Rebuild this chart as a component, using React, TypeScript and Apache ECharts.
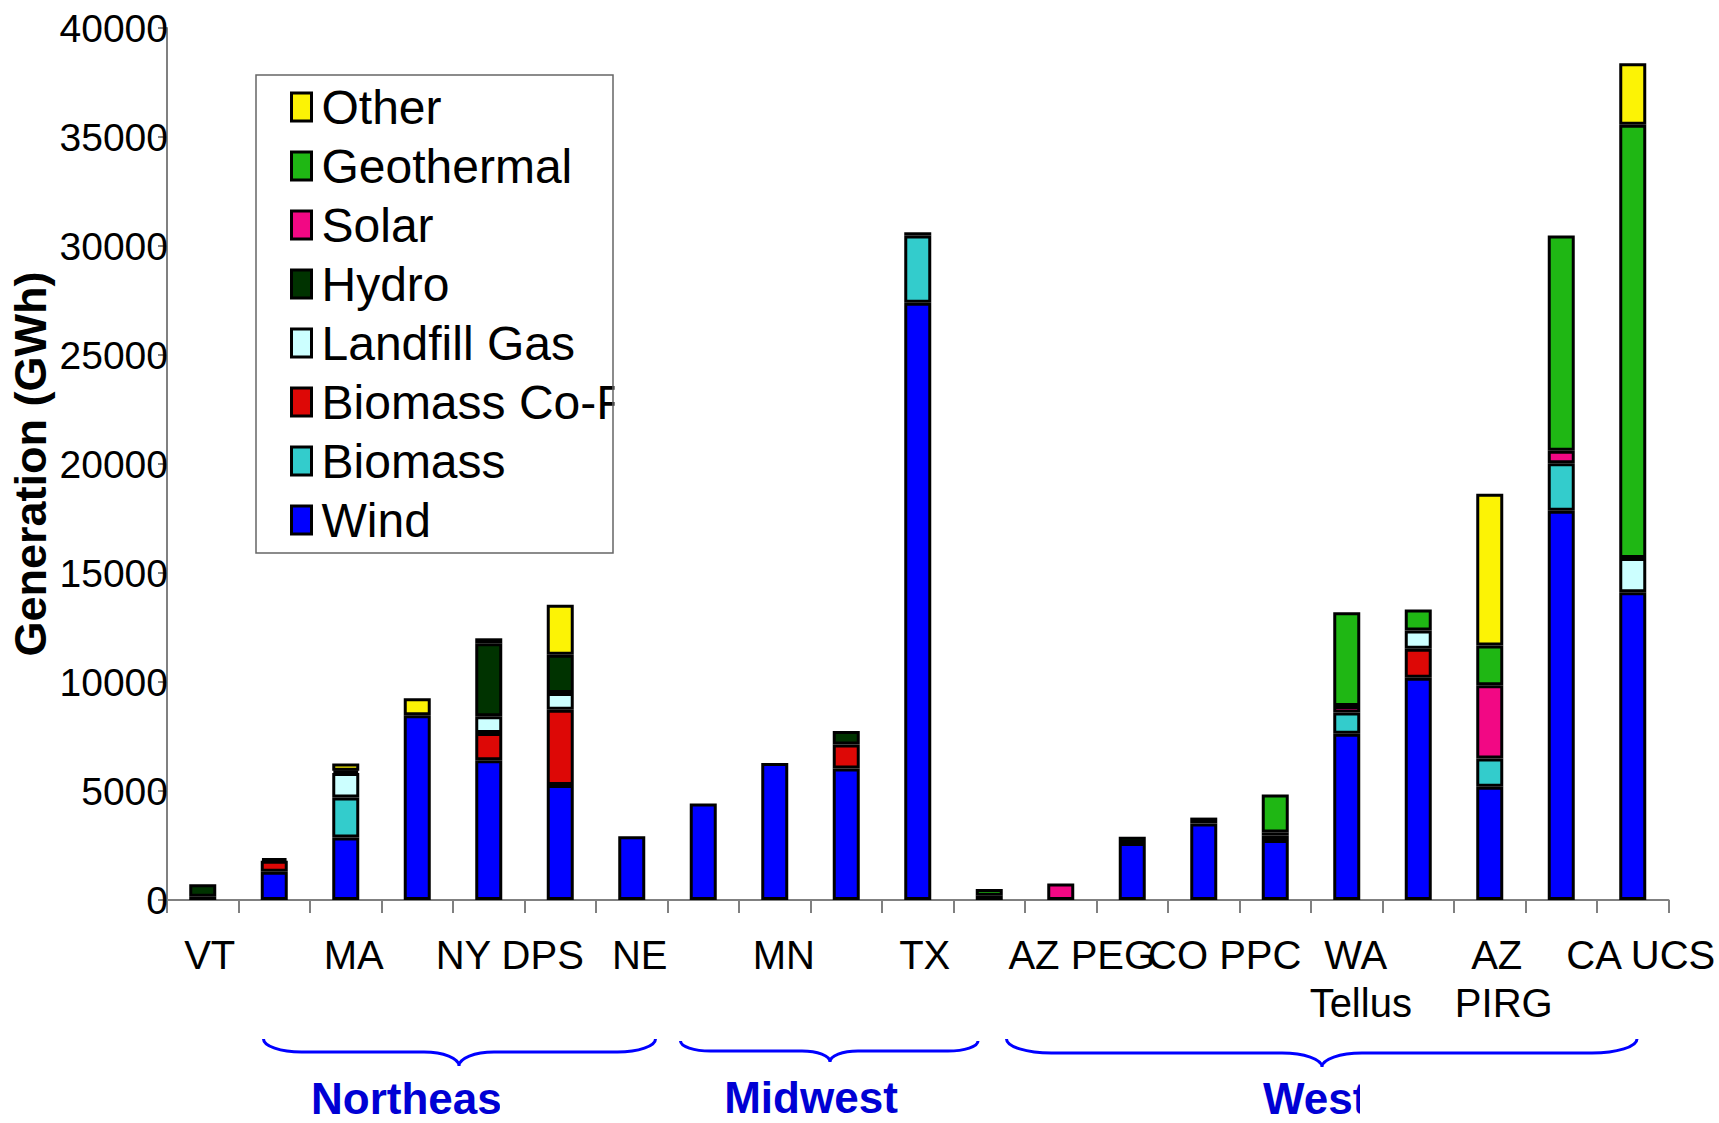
import React, { useEffect, useRef } from 'react';
import * as echarts from 'echarts';

// ---- Data (GWh) ----
const categories = ['VT', '', 'MA', '', 'NY DPS', '', 'NE', '', 'MN', '', 'TX', '', 'AZ PEG', '', 'CO PPC', '', 'WA\nTellus', '', 'AZ\nPIRG', '', 'CA UCS'];

const wind = [0, 1300, 2870, 8470, 6410, 5270, 2930, 4430, 6290, 6030, 27400, 200, 0, 2620, 3510, 2750, 7630, 10200, 5190, 17860, 14120];
const biomass = [150, 0, 1830, 0, 0, 0, 0, 0, 0, 0, 3080, 0, 0, 0, 0, 200, 970, 0, 1300, 2170, 0];
const biomassCoFiring = [0, 500, 0, 0, 1250, 3460, 0, 0, 0, 1100, 0, 0, 0, 0, 0, 0, 0, 1330, 0, 0, 0];
const landfillGas = [0, 0, 1130, 0, 765, 760, 0, 0, 0, 0, 0, 0, 0, 0, 0, 150, 0, 830, 0, 0, 1570];
const hydro = [570, 110, 100, 0, 3350, 1760, 0, 0, 0, 620, 150, 0, 0, 280, 270, 0, 0, 0, 0, 0, 0];
const solar = [0, 0, 0, 0, 0, 0, 0, 0, 0, 0, 0, 0, 760, 0, 0, 0, 300, 0, 3360, 580, 0];
const geothermal = [0, 0, 0, 0, 0, 0, 0, 0, 0, 0, 0, 300, 0, 0, 0, 1740, 4300, 960, 1830, 9870, 19875];
const other = [0, 0, 330, 790, 230, 2290, 0, 0, 0, 0, 0, 0, 0, 0, 0, 0, 0, 0, 6950, 0, 2820];

const seriesNames = ['Wind', 'Biomass', 'Biomass Co-Firing', 'Landfill Gas', 'Hydro', 'Solar', 'Geothermal', 'Other'];
const seriesValues = [wind, biomass, biomassCoFiring, landfillGas, hydro, solar, geothermal, other];
const seriesColors = ['#0000FF', '#33CCCC', '#DD0806', '#CCFFFF', '#003300', '#F20884', '#1FB714', '#FCF305'];

const yMin = 0;
const yMax = 40000;
const yStep = 5000;

const yAxisTitle = 'Generation (GWh)';
const regionLabels = ['Northeast', 'Midwest', 'West'];

const FONT = '"Liberation Sans", Arial, Helvetica, sans-serif';

const CHART_W = 1719;
const CHART_H = 1123;
const GRID = { left: 167, right: 50.5, top: 28, bottom: 223 };

function bracePath(x0: number, x1: number, xm: number, top: number, line: number, tip: number, r: number, r2: number) {
  const k = 0.552;
  const h = line - top;
  const h2 = tip - line;
  return (
    `M${x0},${top} C${x0},${top + k * h} ${x0 + r - k * r},${line} ${x0 + r},${line} ` +
    `L${xm - r2},${line} C${xm - r2 + k * r2},${line} ${xm},${tip - k * h2} ${xm},${tip} ` +
    `C${xm},${tip - k * h2} ${xm + r2 - k * r2},${line} ${xm + r2},${line} ` +
    `L${x1 - r},${line} C${x1 - r + k * r},${line} ${x1},${top + k * h} ${x1},${top} `
  );
}

export default function App() {
  const ref = useRef<HTMLDivElement>(null);

  useEffect(() => {
    if (!ref.current) return;

    const d =
      bracePath(263.5, 655.5, 459, 1039, 1052, 1066, 38, 35) +
      bracePath(680.5, 978, 830, 1041, 1051, 1062, 30, 28) +
      bracePath(1006.5, 1637, 1322, 1039, 1053, 1067, 45, 40);
    echarts.graphic.registerShape('regionBraces', echarts.graphic.extendPath(d, {}));

    const canvas = document.createElement('canvas');
    const ctx = canvas.getContext('2d');
    const measure = (s: string) => {
      if (!ctx) return s.length * 22;
      ctx.font = '40px "Liberation Sans"';
      return ctx.measureText(s).width;
    };

    // per-line rich styles: each line is nudged right in proportion to its width
    // (left/right paddings cancel so the label box keeps its natural width);
    // the nudge is capped so that no label runs past the right edge of the chart
    const plotW = CHART_W - GRID.left - GRID.right;
    const band = plotW / categories.length;
    const rich: any = {};
    categories.forEach((c, i) => {
      const center = GRID.left + band * (i + 0.5);
      c.split('\n').forEach((l, j) => {
        if (!l) return;
        const w = measure(l);
        const room = CHART_W - 3 - (center + w / 2);
        const s = Math.max(0, Math.round(Math.min(w * 0.14, room)));
        rich[`c${i}l${j}`] = {
          fontSize: 40,
          fontFamily: FONT,
          lineHeight: 48,
          color: '#000',
          padding: [0, -s, 0, s],
        };
      });
    });

    const chart = echarts.init(ref.current, undefined, { renderer: 'svg' });

    const series = seriesNames.map((name, i) => ({
      name,
      type: 'bar',
      stack: 'total',
      barWidth: 27,
      data: seriesValues[i].map((v) => (v === 0 ? '-' : v)),
      itemStyle: { color: seriesColors[i], borderColor: '#000', borderWidth: 3 },
      emphasis: { disabled: true },
    }));

    const regionText = (text: string, x: number, y: number, align: string) => ({
      type: 'text',
      x,
      y,
      z: 5,
      style: {
        text,
        fontSize: 44,
        fontWeight: 'bold',
        fontFamily: FONT,
        fill: '#0000D4',
        align,
        verticalAlign: 'middle',
      },
      silent: true,
    });

    const mask = (x: number, y: number, width: number, height: number) => ({
      type: 'rect',
      z: 20,
      shape: { x, y, width, height },
      style: { fill: '#ffffff' },
      silent: true,
    });

    const option: any = {
      animation: false,
      backgroundColor: '#ffffff',
      grid: { ...GRID, containLabel: false, outerBoundsMode: 'none' },
      xAxis: {
        type: 'category',
        data: categories,
        axisLine: { lineStyle: { color: '#808080', width: 2 } },
        axisTick: { show: true, interval: 0, length: 13, lineStyle: { color: '#808080', width: 2 } },
        axisLabel: {
          interval: 1,
          showMinLabel: true,
          showMaxLabel: true,
          hideOverlap: false,
          color: '#000',
          fontSize: 40,
          fontFamily: FONT,
          lineHeight: 48,
          margin: 31,
          formatter: (v: string, i: number) =>
            v ? v.split('\n').map((l, j) => `{c${i}l${j}|${l}}`).join('\n') : '',
          rich,
        },
      },
      yAxis: {
        type: 'value',
        min: yMin,
        max: yMax,
        interval: yStep,
        axisLine: { show: true, lineStyle: { color: '#808080', width: 2 } },
        axisTick: { show: true, length: 9, lineStyle: { color: '#808080', width: 2 } },
        splitLine: { show: false },
        axisLabel: {
          color: '#000',
          fontSize: 39,
          fontFamily: FONT,
          margin: -1,
          formatter: (v: number) => String(v),
        },
      },
      legend: {
        data: [...seriesNames].reverse(),
        orient: 'vertical',
        left: 290,
        top: 83,
        padding: 0,
        itemWidth: 20,
        itemHeight: 28,
        itemGap: 11,
        icon: 'rect',
        selectedMode: false,
        itemStyle: { borderColor: '#000', borderWidth: 3 },
        textStyle: {
          color: '#000',
          fontSize: 48,
          fontFamily: FONT,
          lineHeight: 40,
          padding: [0, 0, 0, 5],
        },
      },
      series,
      graphic: [
        {
          type: 'rect',
          z: 21,
          shape: { x: 256, y: 75, width: 357, height: 478 },
          style: { fill: 'none', stroke: '#666666', lineWidth: 1.5 },
          silent: true,
        },
        {
          type: 'text',
          x: 30,
          y: 464,
          rotation: Math.PI / 2,
          style: {
            text: yAxisTitle,
            fontSize: 45,
            fontWeight: 'bold',
            fontFamily: FONT,
            fill: '#000',
            align: 'center',
            verticalAlign: 'middle',
          },
          silent: true,
        },
        {
          type: 'regionBraces',
          style: { fill: 'none', stroke: '#0000FF', lineWidth: 3 },
          silent: true,
        },
        regionText(regionLabels[0], 311, 1098, 'left'),
        regionText(regionLabels[1], 811, 1097, 'center'),
        regionText(regionLabels[2], 1263, 1098, 'left'),
        // clipped text boxes, as in the original slide
        mask(500, 1074, 70, 49),
        mask(1360, 1074, 50, 49),
        mask(614.5, 375, 140, 56),
      ],
    };

    chart.setOption(option);
    return () => {
      chart.dispose();
    };
  }, []);

  return (
    <div
      ref={ref}
      style={{ position: 'absolute', left: 0, top: 0, width: CHART_W, height: CHART_H, background: '#fff' }}
    />
  );
}
